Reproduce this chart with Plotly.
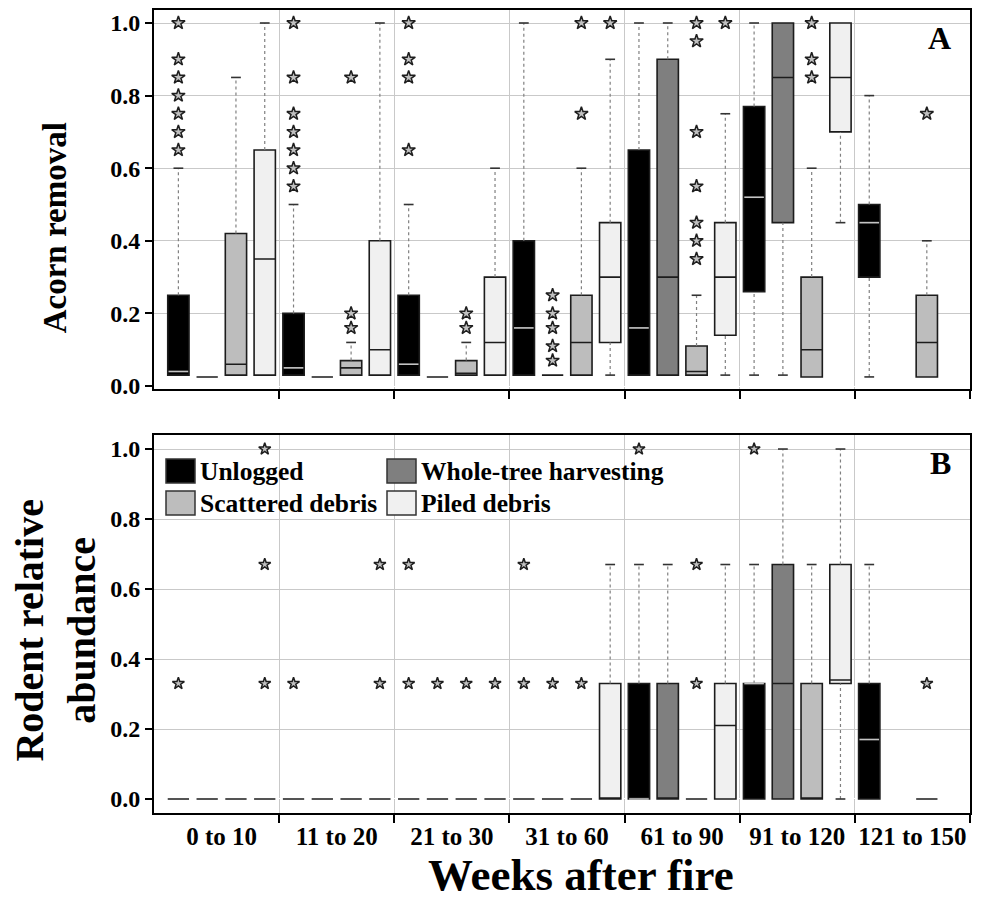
import plotly.graph_objects as go

# ---------------- data ----------------
groups = ["0 to 10", "11 to 20", "21 to 30", "31 to 60", "61 to 90", "91 to 120", "121 to 150"]
treatments = ["Unlogged", "Whole-tree harvesting", "Scattered debris", "Piled debris"]
fill_colors = ["#000000", "#7f7f7f", "#bdbdbd", "#f0f0f0"]
median_colors = ["#c4c4c4", "#2a2a2a", "#2a2a2a", "#2a2a2a"]
y_ticks = [0.0, 0.2, 0.4, 0.6, 0.8, 1.0]

# Panel A: acorn removal (rows = treatments, cols = week groups)
acorn_q1 = [
    [0.03, 0.03, 0.03, 0.03, 0.03, 0.26, 0.30],
    [0.025, 0.025, 0.025, 0.03, 0.03, 0.45, None],
    [0.03, 0.03, 0.03, 0.03, 0.03, 0.025, 0.025],
    [0.03, 0.03, 0.03, 0.12, 0.14, 0.70, None],
]
acorn_median = [
    [0.04, 0.05, 0.06, 0.16, 0.16, 0.52, 0.45],
    [0.025, 0.025, 0.025, 0.03, 0.30, 0.85, None],
    [0.06, 0.05, 0.035, 0.12, 0.04, 0.10, 0.12],
    [0.35, 0.10, 0.12, 0.30, 0.30, 0.85, None],
]
acorn_q3 = [
    [0.25, 0.20, 0.25, 0.40, 0.65, 0.77, 0.50],
    [0.025, 0.025, 0.025, 0.03, 0.90, 1.00, None],
    [0.42, 0.07, 0.07, 0.25, 0.11, 0.30, 0.25],
    [0.65, 0.40, 0.30, 0.45, 0.45, 1.00, None],
]
acorn_low = [
    [0.03, 0.03, 0.03, 0.03, 0.03, 0.03, 0.025],
    [0.025, 0.025, 0.025, 0.03, 0.03, 0.03, None],
    [0.03, 0.03, 0.03, 0.03, 0.03, 0.025, 0.025],
    [0.03, 0.03, 0.03, 0.03, 0.03, 0.45, None],
]
acorn_high = [
    [0.60, 0.50, 0.50, 1.00, 1.00, 1.00, 0.80],
    [0.025, 0.025, 0.025, 0.03, 1.00, 1.00, None],
    [0.85, 0.12, 0.12, 0.60, 0.25, 0.60, 0.40],
    [1.00, 1.00, 0.60, 0.90, 0.75, 1.00, None],
]
acorn_outliers = [
    [[1.0, 0.9, 0.85, 0.8, 0.75, 0.7, 0.65], [1.0, 0.85, 0.75, 0.7, 0.65, 0.6, 0.55],
     [1.0, 0.9, 0.85, 0.65], [], [], [], []],
    [[], [], [], [0.25, 0.2, 0.16, 0.11, 0.07], [], [], []],
    [[], [0.85, 0.2, 0.16], [0.2, 0.16], [1.0, 0.75], [1.0, 0.95, 0.7, 0.55, 0.45, 0.4, 0.35],
     [1.0, 0.9, 0.85], [0.75]],
    [[], [], [], [1.0], [1.0], [], []],
]

# Panel B: rodent relative abundance
rodent_q1 = [
    [0, 0, 0, 0, 0, 0, 0],
    [0, 0, 0, 0, 0, 0, None],
    [0, 0, 0, 0, 0, 0, 0],
    [0, 0, 0, 0, 0, 0.33, None],
]
rodent_median = [
    [0, 0, 0, 0, 0, 0.33, 0.17],
    [0, 0, 0, 0, 0, 0.33, None],
    [0, 0, 0, 0, 0, 0, 0],
    [0, 0, 0, 0, 0.21, 0.34, None],
]
rodent_q3 = [
    [0, 0, 0, 0, 0.33, 0.33, 0.33],
    [0, 0, 0, 0, 0.33, 0.67, None],
    [0, 0, 0, 0, 0, 0.33, 0],
    [0, 0, 0, 0.33, 0.33, 0.67, None],
]
rodent_low = [
    [0, 0, 0, 0, 0, 0, 0],
    [0, 0, 0, 0, 0, 0, None],
    [0, 0, 0, 0, 0, 0, 0],
    [0, 0, 0, 0, 0, 0, None],
]
rodent_high = [
    [0, 0, 0, 0, 0.67, 0.67, 0.67],
    [0, 0, 0, 0, 0.67, 1.0, None],
    [0, 0, 0, 0, 0, 0.67, 0],
    [0, 0, 0, 0.67, 0.67, 1.0, None],
]
rodent_outliers = [
    [[0.33], [0.33], [0.67, 0.33], [0.67, 0.33], [1.0], [1.0], []],
    [[], [], [0.33], [0.33], [], [], []],
    [[], [], [0.33], [0.33], [0.67, 0.33], [], [0.33]],
    [[1.0, 0.67, 0.33], [0.67, 0.33], [0.33], [], [], [], []],
]

# ---------------- styling constants ----------------
FONT = "Liberation Serif"
BOX_W = 0.74
CAP_HALF = 0.17
N_T = len(treatments)

fig = go.Figure()


def add_panel(xa, ya, q1, med, q3, low, high, outl, star_size):
    wx, wy, cx, cy, mx, my, ox, oy = [], [], [], [], [], [], [], []
    for j in range(N_T):
        xs, a, m, b, = [], [], [], []
        for g in range(len(groups)):
            if q1[j][g] is None:
                continue
            c = N_T * g + j + 0.5
            xs.append(c)
            a.append(q1[j][g]); m.append(med[j][g]); b.append(q3[j][g])
            if high[j][g] > q3[j][g]:
                wx += [c, c, None]; wy += [q3[j][g], high[j][g], None]
                cx += [c - CAP_HALF, c + CAP_HALF, None]; cy += [high[j][g], high[j][g], None]
            if low[j][g] < q1[j][g]:
                wx += [c, c, None]; wy += [low[j][g], q1[j][g], None]
                cx += [c - CAP_HALF, c + CAP_HALF, None]; cy += [low[j][g], low[j][g], None]
            if j == 0 and q3[j][g] > q1[j][g]:
                mx += [c - BOX_W / 2 + 0.03, c + BOX_W / 2 - 0.03, None]
                my += [med[j][g], med[j][g], None]
            for v in outl[j][g]:
                ox.append(c); oy.append(v)
        fig.add_trace(go.Box(
            x=xs, q1=a, median=m, q3=b, lowerfence=a, upperfence=b,
            orientation="v", width=BOX_W, whiskerwidth=0, boxpoints=False,
            fillcolor=fill_colors[j], line=dict(color="#1c1c1c", width=1.6),
            name=treatments[j], showlegend=False, hoverinfo="skip",
            xaxis=xa, yaxis=ya))
    fig.add_trace(go.Scatter(x=wx, y=wy, mode="lines", xaxis=xa, yaxis=ya,
                             line=dict(color="#808080", width=1.2, dash="dot"),
                             showlegend=False, hoverinfo="skip"))
    fig.add_trace(go.Scatter(x=cx, y=cy, mode="lines", xaxis=xa, yaxis=ya,
                             line=dict(color="#333333", width=1.6),
                             showlegend=False, hoverinfo="skip"))
    fig.add_trace(go.Scatter(x=mx, y=my, mode="lines", xaxis=xa, yaxis=ya,
                             line=dict(color=median_colors[0], width=1.6),
                             showlegend=False, hoverinfo="skip"))
    fig.add_trace(go.Scatter(x=ox, y=oy, mode="markers", xaxis=xa, yaxis=ya,
                             marker=dict(symbol="star", size=star_size, color="#c0c0c0",
                                         line=dict(color="#1e1e1e", width=1.5)),
                             showlegend=False, hoverinfo="skip"))


add_panel("x", "y", acorn_q1, acorn_median, acorn_q3, acorn_low, acorn_high, acorn_outliers, 10)
add_panel("x2", "y2", rodent_q1, rodent_median, rodent_q3, rodent_low, rodent_high, rodent_outliers, 9)

centers = [N_T * g + N_T / 2 for g in range(len(groups))]
bounds = [N_T * (g + 1) for g in range(len(groups))]

grid_c = "#c9c9c9"
xcommon = dict(range=[-0.347, N_T * len(groups)], tickvals=centers, ticktext=groups,
               ticks="", ticklen=0, showgrid=False, zeroline=False, automargin=False,
               showline=True, linecolor="black", linewidth=2, mirror=True,
               tickfont=dict(family=FONT, size=25, color="black", weight="bold"),
               ticklabelstandoff=0,
               minor=dict(tickvals=bounds, ticks="outside", ticklen=8, tickwidth=2,
                          tickcolor="black", showgrid=True, gridcolor=grid_c, gridwidth=1))
ycommon = dict(tickvals=y_ticks, ticktext=[f"{v:.1f}" for v in y_ticks],
               ticks="outside", ticklen=7, tickwidth=2, tickcolor="black",
               showgrid=True, gridcolor=grid_c, gridwidth=1, automargin=False,
               zeroline=True, zerolinecolor="white", zerolinewidth=1,
               showline=True, linecolor="black", linewidth=2, mirror=True,
               tickfont=dict(family=FONT, size=24, color="black", weight="bold"))

# the page body adds an 8 px offset, so the figure is 8 px smaller and margins shifted
fig.update_layout(
    width=973, height=891,
    margin=dict(l=146, r=11, t=2, b=86, autoexpand=False),
    paper_bgcolor="white", plot_bgcolor="white",
    boxmode="overlay", showlegend=False,
    xaxis=dict(xcommon, anchor="y", showticklabels=False),
    yaxis=dict(ycommon, domain=[0.528, 1.0], range=[-0.0083, 1.0358], anchor="x"),
    xaxis2=dict(xcommon, anchor="y2"),
    yaxis2=dict(ycommon, domain=[0.0, 0.4707], range=[-0.04, 1.04], anchor="x2"),
)

ann = []
tf = lambda s: dict(family=FONT, size=s, color="black", weight="bold")
ann.append(dict(text="A", xref="x domain", yref="y domain", x=0.979, y=0.98,
                xanchor="right", yanchor="top", showarrow=False, font=tf(32)))
ann.append(dict(text="B", xref="x2 domain", yref="y2 domain", x=0.979, y=0.98,
                xanchor="right", yanchor="top", showarrow=False, font=tf(32)))
ann.append(dict(text="Acorn removal", xref="paper", yref="paper", x=-0.121, y=0.7285,
                textangle=-90, xanchor="center", yanchor="middle", showarrow=False, font=tf(33)))
ann.append(dict(text="Rodent relative<br>abundance", xref="paper", yref="paper", x=-0.121,
                y=0.2275, textangle=-90, xanchor="center", yanchor="middle",
                showarrow=False, font=tf(40)))
ann.append(dict(text="Weeks after fire", xref="paper", yref="paper", x=0.523, y=-0.0436,
                xanchor="center", yanchor="top", showarrow=False, font=tf(45)))

# legend (drawn inside panel B); positions in page pixels of the reference
leg_pos = [(166, 459), (387, 459), (166, 491), (387, 491)]
shapes = []
for j, (px, py) in enumerate(leg_pos):
    x0 = (px - 154) / 816
    x1 = (px + 29 - 154) / 816
    y1 = (813 - py) / 378
    y0 = (813 - py - 24) / 378
    shapes.append(dict(type="rect", xref="x2 domain", yref="y2 domain", x0=x0, x1=x1,
                       y0=y0, y1=y1, fillcolor=fill_colors[j],
                       line=dict(color="#333333", width=1.5)))
    ann.append(dict(text=treatments[j], xref="x2 domain", yref="y2 domain",
                    x=(px + 32 - 154) / 816, y=(813 - py - 12) / 378,
                    xanchor="left", yanchor="middle", showarrow=False, font=tf(25.5)))

fig.update_layout(annotations=ann, shapes=shapes)
fig.write_html("out.html")
